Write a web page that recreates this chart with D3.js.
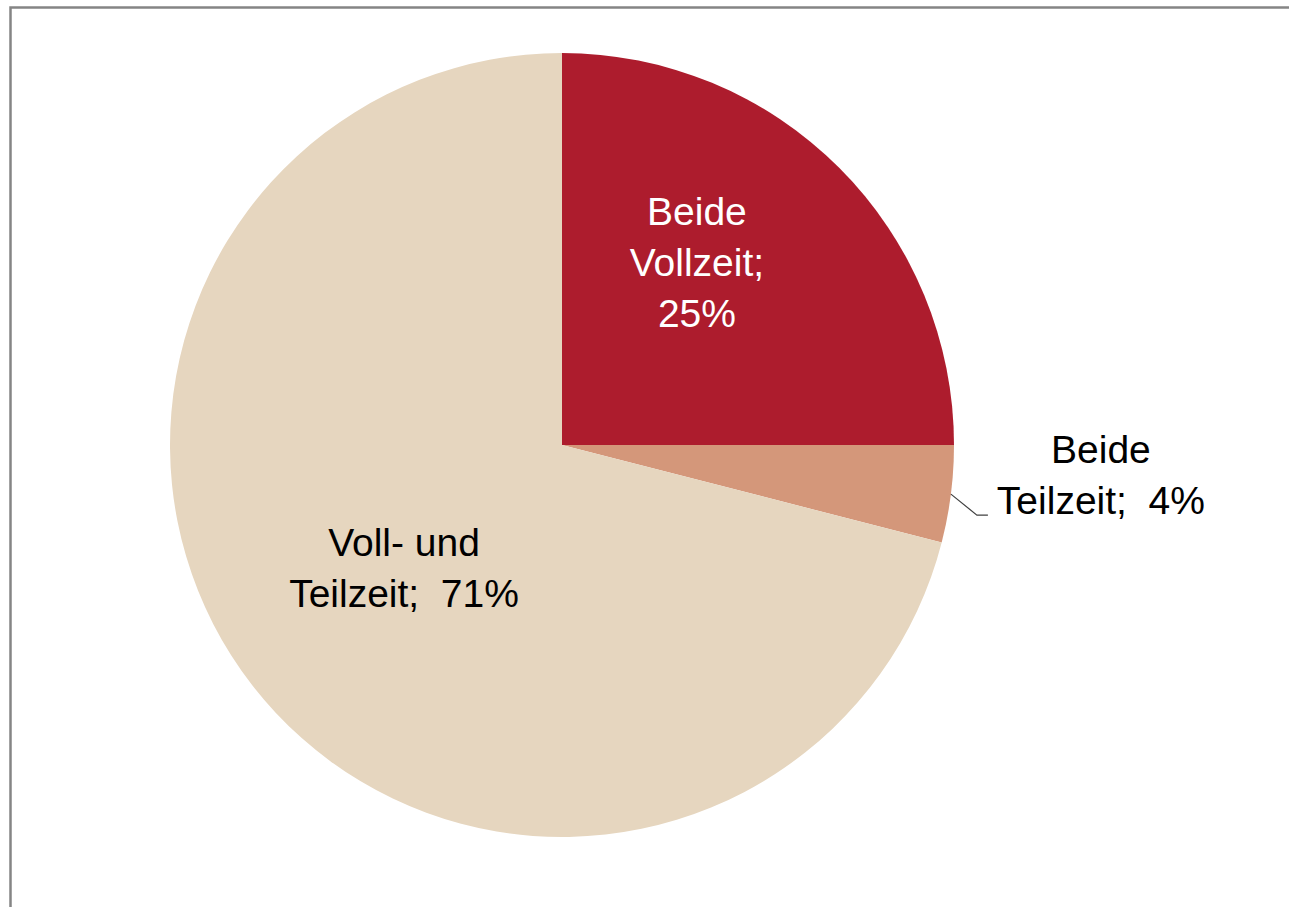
<!DOCTYPE html>
<html>
<head>
<meta charset="utf-8">
<script src="https://cdn.jsdelivr.net/npm/d3@7"></script>
<style>
  html, body { margin: 0; padding: 0; background: #fff; }
  svg { display: block; }
  text { font-family: "Liberation Sans", Arial, sans-serif; }
</style>
</head>
<body>
<svg id="chart"></svg>
<script>
// data
const categories = ['Beide Vollzeit', 'Beide Teilzeit', 'Voll- und Teilzeit']
const values = [25, 4, 71]
const labelLines = [['Beide', 'Vollzeit;', '25%'], ['Beide', 'Teilzeit;  4%'], ['Voll- und', 'Teilzeit;  71%']]
const colors = ['#ad1c2d', '#d4977a', '#e6d6bf']

const width = 1289
const height = 907
const cx = 562
const cy = 445
const radius = 392

const svg = d3.select('#chart')
  .attr('width', width)
  .attr('height', height)

// chart frame (right and bottom run off the picture)
svg.append('rect')
  .attr('x', 10.5)
  .attr('y', 7.5)
  .attr('width', 1300)
  .attr('height', 920)
  .attr('fill', 'none')
  .attr('stroke', '#858585')
  .attr('stroke-width', 2.5)

const pie = d3.pie().sort(null).value(d => d)
const arcs = pie(values)
const arc = d3.arc().innerRadius(0).outerRadius(radius)

const g = svg.append('g')
  .attr('transform', `translate(${cx},${cy})`)

g.selectAll('path.slice')
  .data(arcs)
  .enter().append('path')
  .attr('class', 'slice')
  .attr('d', arc)
  .attr('fill', (d, i) => colors[i])

// label placement: inside labels sit near the centroid, the small slice gets a leader
const fontSize = 39
const lineH = 51
const capH = fontSize * 0.7
const labelR = [0.58, 0, 0.51]
const angleShift = [-0.15, 0, 0]

arcs.forEach((d, i) => {
  const lines = labelLines[i]
  let x, y
  const fill = i === 0 ? '#ffffff' : '#000000'
  if (i === 1) {
    // outside label with leader line
    const a = (d.startAngle + d.endAngle) / 2
    const p0 = [Math.sin(a) * radius, -Math.cos(a) * radius]
    const p1 = [p0[0] + 26, p0[1] + 21]
    const p2 = [p1[0] + 11, p1[1]]
    g.append('path')
      .attr('d', d3.line()([p0, p1, p2]))
      .attr('fill', 'none')
      .attr('stroke', '#404040')
      .attr('stroke-width', 1.2)
    x = p2[0] + 113
    y = p2[1] - 40
  } else {
    const a = (d.startAngle + d.endAngle) / 2 + angleShift[i]
    const r = labelR[i] * radius
    x = Math.sin(a) * r
    y = -Math.cos(a) * r
  }
  const t = g.append('text')
    .attr('text-anchor', 'middle')
    .attr('fill', fill)
    .style('font-size', fontSize + 'px')
    .style('white-space', 'pre')
  lines.forEach((line, j) => {
    t.append('tspan')
      .attr('x', x)
      .attr('y', y + (j - (lines.length - 1) / 2) * lineH + capH / 2)
      .text(line)
  })
})
</script>
</body>
</html>
